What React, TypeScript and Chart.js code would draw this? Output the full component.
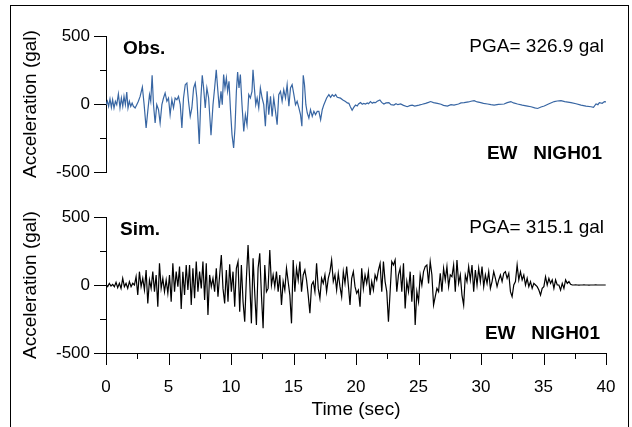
import React, { useEffect, useRef } from "react";
import { Chart, registerables } from "chart.js";

Chart.register(...registerables);

const FONT = "'Liberation Sans', Arial, Helvetica, sans-serif";

// ---- axis ticks ----
const X_MIN = 0;
const X_MAX = 40;
const X_STEP = 2.5;
const X_LABEL_EVERY = 5;
const Y_MIN = -500;
const Y_MAX = 500;
const Y_STEP = 250;
const Y_LABEL_EVERY = 500;

// ---- texts ----
const Y_TITLE = "Acceleration (gal)";
const X_TITLE = "Time (sec)";
const OBS_LABEL = "Obs.";
const SIM_LABEL = "Sim.";
const OBS_PGA = "PGA= 326.9 gal";
const SIM_PGA = "PGA= 315.1 gal";
const STATION = "EW   NIGH01";

// ---- observed record (time in sec, acceleration in gal) ----
const obsTime = [
  0, 0.11, 0.21, 0.32, 0.43, 0.53, 0.64, 0.75, 0.86, 0.99, 1.12, 1.23, 1.34, 1.44, 1.55, 1.66, 1.76, 1.87, 1.98, 2.09,
  2.19, 2.33, 2.46, 2.59, 2.73, 2.91, 3.05, 3.21, 3.34, 3.48, 3.58, 3.69, 3.8, 3.93, 4.06, 4.2, 4.33, 4.47, 4.6, 4.73,
  4.87, 5.0, 5.13, 5.27, 5.4, 5.53, 5.67, 5.8, 5.94, 6.07, 6.2, 6.34, 6.47, 6.6, 6.74, 6.87, 7.01, 7.14, 7.27, 7.46,
  7.59, 7.7, 7.81, 7.94, 8.07, 8.21, 8.4, 8.56, 8.69, 8.82, 8.93, 9.06, 9.2, 9.3, 9.41, 9.52, 9.63, 9.73, 9.84, 9.95,
  10.08, 10.21, 10.32, 10.43, 10.53, 10.64, 10.75, 10.88, 11.02, 11.15, 11.28, 11.42, 11.55, 11.68, 11.76, 11.87, 11.98, 12.09, 12.22, 12.35,
  12.49, 12.62, 12.75, 12.89, 13.02, 13.16, 13.29, 13.42, 13.56, 13.69, 13.82, 13.96, 14.09, 14.22, 14.36, 14.49, 14.63, 14.76, 14.89, 15.03,
  15.16, 15.29, 15.43, 15.56, 15.67, 15.78, 15.88, 15.99, 16.1, 16.23, 16.36, 16.5, 16.63, 16.76, 16.9, 17.03, 17.17, 17.3, 17.43, 17.65,
  17.83, 17.97, 18.1, 18.24, 18.37, 18.5, 18.76, 18.95, 19.16, 19.3, 19.43, 19.55, 19.69, 19.82, 19.96, 20.1, 20.2, 20.36, 20.5, 20.62,
  20.76, 20.9, 21.0, 21.16, 21.3, 21.4, 21.56, 21.7, 21.91, 22.05, 22.23, 22.4, 22.63, 22.8, 23.03, 23.2, 23.35, 23.57, 23.8, 24.1,
  24.3, 24.5, 24.7, 25.04, 25.3, 25.57, 25.8, 25.97, 26.2, 26.51, 26.8, 27.0, 27.31, 27.6, 27.84, 28.2, 28.4, 28.65, 29.0, 29.2,
  29.45, 29.7, 29.98, 30.2, 30.52, 30.8, 31.05, 31.4, 31.85, 32.1, 32.39, 32.6, 32.92, 33.3, 33.72, 34.0, 34.3, 34.53, 34.8, 35.06,
  35.4, 35.86, 36.1, 36.4, 36.7, 37.2, 37.6, 38.0, 38.4, 38.8, 39.0, 39.2, 39.35, 39.47, 39.7, 39.87, 40,
];
const obsAccel = [
  -5, 20, -17, 37, -25, 32, -29, 20, -5, 74, -29, 44, -17, 56, -5, 88, -29, 20, -17, 7,
  -17, -29, -5, 20, 56, 125, -5, -176, -54, 69, 20, 211, -5, -140, -5, -42, -140, -5, 44, 81,
  20, 44, -78, 32, -29, 44, 32, 56, -5, -176, 44, 142, 154, 20, -91, -29, 118, 154, 44, -294,
  44, 211, 118, -29, 118, 44, -230, -5, 118, 252, 118, -29, 93, -5, 216, 118, 191, 93, 167, -29,
  -225, -323, -176, 93, 235, 118, 216, -5, -201, -78, -152, 69, 44, 93, 252, 118, -5, 44, -29, 118,
  44, -5, -164, 93, -78, 56, -91, 44, -54, -152, 69, 93, 20, 105, 44, 142, -17, 118, 142, 69,
  -5, 20, -29, -78, -164, 211, 142, -5, -66, -103, -42, -91, -54, -78, -54, -54, -115, -42, -5, 44,
  69, 49, 69, 56, 69, 49, 43, 30, 18, 8, 5, -20, -46, -25, -8, -15, 0, 10, -2, 5,
  0, 8, 2, 18, 5, 12, 10, 20, 30, 12, 0, 8, 10, -5, -8, 2, -5, 0, -10, -20,
  -12, -8, -15, -8, -2, 5, 12, 18, 10, 5, -2, -10, -15, -5, -8, 0, 8, 10, 15, 20,
  25, 15, 10, 5, 0, -5, -8, -3, 0, 10, 18, 8, 0, -8, -15, -20, -28, -33, -22, -15,
  0, 18, 22, 25, 18, 10, 2, -8, -15, -20, -25, 0, -5, 10, 5, 18, 15,
];

// ---- simulated record: regular sampling ----
const SIM_START = 0;
const SIM_DT = 0.1337;
const simAccel = [
  5, -12, 12, -7, 5, -12, 20, -20, 12, -25, 49, -12, 12, -25, 25, -12, 12, 0, 61, -74,
  98, -12, 49, -37, 110, -135, 37, -25, 98, -49, 74,
  -159, 159, -25, 49, -49, 37, -61, 74, -123, 159, -49, 98, -12, 135, -176, 98, -74,
  147, -37,
  147, -147, 123, -98, 172, -49, 98, -25, 172, -110,
  159, -221, 74, -12, 49, -49, 123, -86, 74, 221,
  -25, -135, 110, -123, 152, -49, 98, -159, 123, 172,
  -196, 147, -123, -270, 49, 294, 25, -282, 196, -61,
  -294, 123, 233, -74, -318, 147, -49, -25, 257, 0,
  74, -12, 98, -49, 74, -147, 25, -37, 123, 25,
  -74, -282, 184, -49, 123, 37, 172, -49, 74, 110,
  37, -74, -208, 0, 25, -49, 159, -25, -98, 49,
  12, 74, -49, 49, 98, 184, 25, 74, -37, 86,
  -12, -86, 98, 12, 135, 0, -147, 49, 98, -12,
  -61, -37,
  -159, 123, -25, 74, 12, 98, -74, 25, -37, 74,
  37, 110, 159, -49, 172, 25, -49, -270, -49, 172,
  147, 184, -49, 74, 123, -49, 159, -172, 25, -49,
  98, -123, 74, -294, -49, -123, 74, 0, 98, 135,
  147, 12, 172, 74, -147, -86, -25, -49, 86, -49,
  123, 37, 135, -12, 74, 61, 147, -49, 184, 12,
  74, -74, -147, 74, 25, 135, 37, 147, -49, 110,
  0, 123, 25, 135, -12, 74, 12, 98, -25, 25,
  98, 49, -12, 37, 74, 25, 86, 98, 49, 86,
  -49, -86, 0, 25, 147, 37, 98, 37, 74, 0,
  49, -12, 25, -25, 12, 0, -12, -37, -74, -25,
  -12, 61, 0, 49, 12, 37, -25, 37, 0, 0,
  -37, 12, -25, 37, 12, 25, 5, 0,
  0, 1, 0, -1, 0, 0, 1, 0, 0, -1, 0, 0, 0, 1, 0, 0, 0, 0, 0, 0,
];

const OBS_COLOR = "#3866a3";
const SIM_COLOR = "#000000";

const panelDecor = {
  id: "panelDecor",
  afterDraw(chart: any, _args: any, opts: any) {
    const { ctx, chartArea } = chart;
    const ys = chart.scales.y;
    ctx.save();
    ctx.strokeStyle = "#000";
    ctx.lineWidth = 1;
    ys.ticks.forEach((t: any) => {
      const py = Math.round(ys.getPixelForValue(t.value)) + 0.5;
      const len = t.value % Y_LABEL_EVERY === 0 ? 12 : 6;
      ctx.beginPath();
      ctx.moveTo(chartArea.left - len, py);
      ctx.lineTo(chartArea.left, py);
      ctx.stroke();
    });
    if (opts.xTicks) {
      const xs = chart.scales.x;
      xs.ticks.forEach((t: any) => {
        const px = Math.round(xs.getPixelForValue(t.value)) + 0.5;
        const len = t.value % X_LABEL_EVERY === 0 ? 12 : 6;
        ctx.beginPath();
        ctx.moveTo(px, chartArea.bottom);
        ctx.lineTo(px, chartArea.bottom + len);
        ctx.stroke();
      });
    }
    ctx.fillStyle = "#000";
    ctx.textBaseline = "middle";
    ctx.font = `bold 19px ${FONT}`;
    ctx.textAlign = "left";
    ctx.fillText(opts.label, chartArea.left + opts.labelDx, chartArea.top + 13);
    ctx.textAlign = "right";
    ctx.fillText(opts.station, chartArea.right - opts.stationDx, chartArea.top + opts.stationDy);
    ctx.font = `19px ${FONT}`;
    ctx.fillText(opts.pga, chartArea.right - 2, chartArea.top + 11);
    ctx.restore();
  },
};

function yScale() {
  return {
    type: "linear",
    min: Y_MIN,
    max: Y_MAX,
    afterFit: (s: any) => {
      s.width = 106;
    },
    ticks: {
      stepSize: Y_STEP,
      callback: (v: any) => (Number(v) % Y_LABEL_EVERY === 0 ? String(v) : ""),
      font: { family: FONT, size: 17 },
      color: "#000",
      padding: 4,
    },
    grid: {
      display: true,
      drawOnChartArea: false,
      drawTicks: true,
      tickLength: 12,
      tickColor: "rgba(0,0,0,0)",
    },
    border: { display: true, color: "#000", width: 1 },
    title: {
      display: true,
      text: Y_TITLE,
      font: { family: FONT, size: 19 },
      color: "#000",
      padding: { top: 19, bottom: 0 },
    },
  };
}

function makeConfig(kind: "obs" | "sim") {
  const isObs = kind === "obs";
  const points = isObs
    ? obsTime.map((t, i) => ({ x: t, y: obsAccel[i] }))
    : simAccel.map((v, i) => ({ x: SIM_START + i * SIM_DT, y: v }));
  return {
    type: "line",
    data: {
      datasets: [
        {
          data: points,
          borderColor: isObs ? OBS_COLOR : SIM_COLOR,
          borderWidth: 1.2,
          pointRadius: 0,
          fill: false,
          tension: 0,
        },
      ],
    },
    options: {
      responsive: false,
      animation: false,
      events: [],
      layout: {
        padding: isObs
          ? { left: 0, right: 26, top: 36, bottom: 255 }
          : { left: 0, right: 26, top: 217, bottom: 0 },
      },
      plugins: {
        legend: { display: false },
        tooltip: { enabled: false },
        panelDecor: {
          xTicks: !isObs,
          label: isObs ? OBS_LABEL : SIM_LABEL,
          labelDx: isObs ? 17 : 14,
          pga: isObs ? OBS_PGA : SIM_PGA,
          station: STATION,
          stationDx: isObs ? 4 : 6,
          stationDy: isObs ? 118 : 117,
        },
      },
      scales: {
        x: isObs
          ? { type: "linear", min: X_MIN, max: X_MAX, display: false }
          : {
              type: "linear",
              min: X_MIN,
              max: X_MAX,
              afterFit: (s: any) => {
                s.height = 74;
              },
              ticks: {
                stepSize: X_STEP,
                autoSkip: false,
                maxRotation: 0,
                callback: (v: any) => (Number(v) % X_LABEL_EVERY === 0 ? String(v) : ""),
                font: { family: FONT, size: 17 },
                color: "#000",
                padding: 4,
              },
              grid: {
                display: true,
                drawOnChartArea: false,
                drawTicks: true,
                tickLength: 20,
                tickColor: "rgba(0,0,0,0)",
              },
              border: { display: true, color: "#000", width: 1 },
              title: {
                display: true,
                text: X_TITLE,
                font: { family: FONT, size: 19 },
                color: "#000",
                padding: { top: 0, bottom: 6 },
              },
            },
        y: yScale(),
      },
    },
    plugins: [panelDecor],
  } as any;
}

export default function App() {
  const topRef = useRef<HTMLCanvasElement>(null);
  const botRef = useRef<HTMLCanvasElement>(null);
  useEffect(() => {
    const c1 = new Chart(topRef.current as HTMLCanvasElement, makeConfig("obs"));
    const c2 = new Chart(botRef.current as HTMLCanvasElement, makeConfig("sim"));
    return () => {
      c1.destroy();
      c2.destroy();
    };
  }, []);
  return (
    <div
      style={{
        position: "fixed",
        left: 0,
        top: 0,
        width: 632,
        height: 427,
        background: "#fff",
        overflow: "hidden",
      }}
    >
      <div
        style={{
          position: "absolute",
          left: 10,
          top: 5,
          width: 619,
          height: 500,
          border: "1px solid #000",
          boxSizing: "border-box",
        }}
      />
      <canvas ref={topRef} width={632} height={427} style={{ position: "absolute", left: 0, top: 0 }} />
      <canvas ref={botRef} width={632} height={427} style={{ position: "absolute", left: 0, top: 0 }} />
    </div>
  );
}
